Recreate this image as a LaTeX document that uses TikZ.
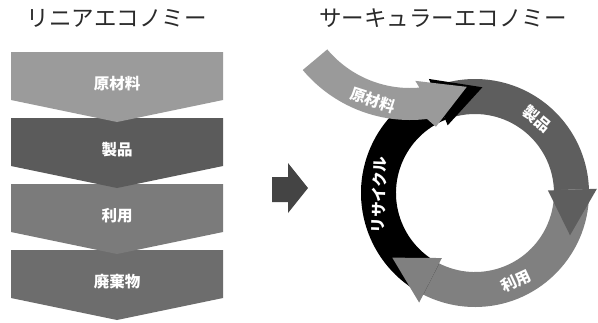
\documentclass[tikz,border=0pt]{standalone}
\usepackage{fontspec}
\setmainfont{Noto Sans CJK JP}
\definecolor{chevA}{HTML}{9B9B9B}
\definecolor{chevB}{HTML}{5B5B5B}
\definecolor{chevC}{HTML}{7B7B7B}
\definecolor{chevD}{HTML}{6D6D6D}
\definecolor{ringA}{HTML}{5E5E5E}
\definecolor{ringB}{HTML}{808080}
\definecolor{rawgray}{HTML}{9A9A9A}
\definecolor{midarrow}{HTML}{444444}
\definecolor{titlegray}{HTML}{2A2A2A}
\begin{document}
\begin{tikzpicture}[x=1pt,y=1pt,
  lbl/.style={text=white,font=\fontsize{15.5}{18}\selectfont\bfseries,inner sep=0pt},
  ttl/.style={text=titlegray,font=\fontsize{22.5}{26}\selectfont,inner sep=0pt}]
\useasboundingbox (0,0) rectangle (598,-322);
\fill[white] (0,0) rectangle (598,-322);

% titles
\node[ttl] (tleft) at (117,-18) {リニアエコノミー};
\node[ttl] (tright) at (443,-18) {サーキュラーエコノミー};

% linear chevrons (drawn bottom first so upper points overlap)
\foreach \k/\c in {3/chevD,2/chevC,1/chevB,0/chevA}{
  \pgfmathsetmacro\yt{-52-66*\k}
  \pgfmathsetmacro\ys{-100-66*\k}
  \pgfmathsetmacro\yp{-122-66*\k}
  \fill[\c] (11,\yt) -- (223,\yt) -- (223,\ys) -- (117,\yp) -- (11,\ys) -- cycle;
}
\node[lbl] (l1) at (117,-84) {原材料};
\node[lbl] (l2) at (117,-150) {製品};
\node[lbl] (l3) at (117,-216) {利用};
\node[lbl] (l4) at (117,-282) {廃棄物};

% middle arrow
\fill[midarrow] (272,-177) -- (288,-177) -- (288,-163) -- (308,-188) -- (288,-213) -- (288,-202) -- (272,-202) -- cycle;

% cycle
\begin{scope}[shift={(475,-193)}]
  \def\Ro{114}\def\Ri{79}
  % bodies
  \fill[ringA] (112:\Ro) arc[start angle=112,end angle=2,radius=\Ro] -- (2:\Ri) arc[start angle=2,end angle=112,radius=\Ri] -- cycle;
  \fill[ringB] (2:\Ro) arc[start angle=2,end angle=-117,radius=\Ro] -- (-117:\Ri) arc[start angle=-117,end angle=2,radius=\Ri] -- cycle;
  \fill[black] (243:\Ro) arc[start angle=243,end angle=112,radius=\Ro] -- (112:\Ri) arc[start angle=112,end angle=243,radius=\Ri] -- cycle;
  % heads
  \fill[ringA] (2:73) -- (2:122) -- (-24:104) -- cycle;
  \fill[ringB] (243:73) -- (243:123) -- (218:105) -- cycle;
  \fill[black] (112:73) -- (112:123) -- (86:106) -- cycle;
  % labels
  \node[lbl,rotate=-40] (r1) at (50:97) {製品};
  \node[lbl,rotate=25] (r2) at (-65:97) {利用};
  \node[lbl,rotate=88] (r3) at (181:96) {リサイクル};
\end{scope}

% raw material curved arrow
\begin{scope}[shift={(410,20)}]
  \fill[rawgray] (220:140) arc[start angle=220,end angle=277,radius=140] -- (280:149) -- (298:121) -- (273:101) -- (275:108) arc[start angle=275,end angle=220,radius=108] -- cycle;
  \node[lbl,rotate=-18] (r0) at (253:126) {原材料};
\end{scope}
\end{tikzpicture}
\end{document}
